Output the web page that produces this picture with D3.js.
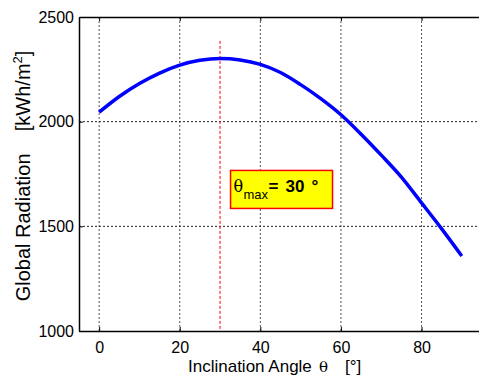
<!DOCTYPE html>
<html>
<head>
<meta charset="utf-8">
<script src="https://cdn.jsdelivr.net/npm/d3@7"></script>
<style>
  body { margin: 0; background: #fff; }
  text { font-family: Arial, "Liberation Sans", Helvetica, sans-serif; }
</style>
</head>
<body>
<div id="chart"></div>
<script>
// data
const angles = [0, 5, 10, 15, 20, 25, 30, 35, 40, 45, 50, 55, 60, 65, 70, 75, 80, 85, 90];
const radiation = [2045, 2120, 2182, 2232, 2270, 2293, 2302, 2295, 2274, 2235, 2177, 2110, 2033, 1940, 1840, 1735, 1612, 1488, 1358];
const xTicks = [0, 20, 40, 60, 80];
const yTicks = [1000, 1500, 2000, 2500];
const thetaMax = 30;

const width = 479;
const height = 376;

const svg = d3.select('#chart')
  .append('svg')
  .attr('width', width)
  .attr('height', height);

// axes box goes past the right edge of the window
const x = d3.scaleLinear().domain([-5, 95]).range([79, 482]);
const y = d3.scaleLinear().domain([1000, 2500]).range([331, 17]);

// grid
svg.append('g')
  .selectAll('line')
  .data(xTicks)
  .enter()
  .append('line')
  .attr('x1', d => x(d)).attr('x2', d => x(d))
  .attr('y1', y(2500)).attr('y2', y(1000))
  .attr('stroke', '#555')
  .attr('stroke-dasharray', '2,2');

svg.append('g')
  .selectAll('line')
  .data(yTicks.slice(1, -1))
  .enter()
  .append('line')
  .attr('x1', x(-5)).attr('x2', x(95))
  .attr('y1', d => y(d)).attr('y2', d => y(d))
  .attr('stroke', '#222')
  .attr('stroke-dasharray', '2,2');

// axes (inward ticks, matlab style)
const xAxis = svg.append('g')
  .attr('transform', `translate(0,${y(1000)})`)
  .call(d3.axisBottom(x).tickValues(xTicks).tickSizeInner(-4).tickSizeOuter(0).tickPadding(11));

const xTop = svg.append('g')
  .attr('transform', `translate(0,${y(2500)})`)
  .call(d3.axisTop(x).tickValues(xTicks).tickSizeInner(-4).tickSizeOuter(0).tickFormat(''));

const yAxis = svg.append('g')
  .attr('transform', `translate(${x(-5)},0)`)
  .call(d3.axisLeft(y).tickValues(yTicks).tickFormat(d3.format('d')).tickSizeInner(-4).tickSizeOuter(0).tickPadding(5));

[xAxis, xTop, yAxis].forEach(g => {
  g.select('.domain').attr('stroke', '#000').attr('stroke-width', 1.5);
  g.selectAll('.tick line').attr('stroke', '#000');
  g.selectAll('.tick text')
    .attr('fill', '#000')
    .style('font-size', '16px')
    .style('font-family', 'Arial, "Liberation Sans", sans-serif');
});

// red marker line at the optimum
svg.append('line')
  .attr('x1', x(thetaMax)).attr('x2', x(thetaMax))
  .attr('y1', y(2386)).attr('y2', y(1000))
  .attr('stroke', '#ff0000')
  .attr('stroke-width', 1)
  .attr('stroke-dasharray', '3,2');

// curve
const line = d3.line()
  .x((d, i) => x(angles[i]))
  .y(d => y(d))
  .curve(d3.curveMonotoneX);

svg.append('path')
  .datum(radiation)
  .attr('d', line)
  .attr('fill', 'none')
  .attr('stroke', '#0000ff')
  .attr('stroke-width', 3.5)
  .attr('stroke-linejoin', 'round');

// annotation box
const bx = x(32.6), by = y(1767);
svg.append('rect')
  .attr('x', bx).attr('y', by)
  .attr('width', 102).attr('height', 38)
  .attr('fill', '#ffff00')
  .attr('stroke', '#ff0000')
  .attr('stroke-width', 1.5);

const note = svg.append('text')
  .attr('y', by + 22)
  .attr('fill', '#000');
note.append('tspan')
  .attr('x', bx + 3)
  .style('font-family', '"DejaVu Serif", "Times New Roman", serif')
  .style('font-size', '16px')
  .text('θ');
note.append('tspan')
  .attr('x', bx + 13)
  .attr('dy', 7)
  .style('font-size', '13px')
  .text('max');
note.append('tspan')
  .attr('x', bx + 38)
  .attr('dy', -7)
  .style('font-size', '17px')
  .style('font-weight', 'bold')
  .text('=');
note.append('tspan')
  .attr('x', bx + 55)
  .style('font-size', '17px')
  .style('font-weight', 'bold')
  .text(thetaMax);
note.append('tspan')
  .attr('x', bx + 81)
  .style('font-size', '17px')
  .style('font-weight', 'bold')
  .text('°');

// axis labels
const xl = svg.append('text')
  .attr('y', 372)
  .style('font-size', '17px');
xl.append('tspan').attr('x', 188).text('Inclination Angle');
xl.append('tspan').attr('x', 319)
  .style('font-family', '"DejaVu Serif", "Times New Roman", serif')
  .style('font-size', '15px')
  .text('θ');
xl.append('tspan').attr('x', 345).text('[°]');

const yl = svg.append('text')
  .attr('transform', 'translate(30,176) rotate(-90)')
  .attr('text-anchor', 'middle')
  .style('font-size', '20px')
  .style('white-space', 'pre');
yl.append('tspan').text('Global Radiation    [kWh/m');
yl.append('tspan').attr('dy', -8).style('font-size', '13px').text('2');
yl.append('tspan').attr('dy', 8).text(']');
</script>
</body>
</html>
